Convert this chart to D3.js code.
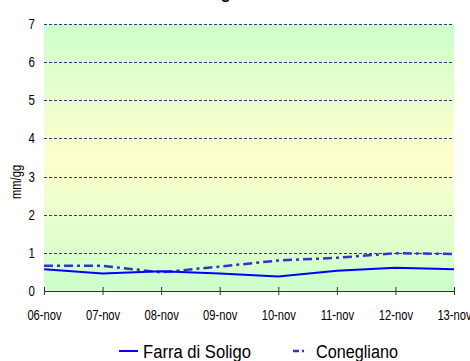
<!DOCTYPE html>
<html>
<head>
<meta charset="utf-8">
<script src="https://cdn.jsdelivr.net/npm/d3@7"></script>
<style>
  body { margin: 0; background: #fff; }
  svg { display: block; }
  text { font-family: "Liberation Sans Narrow", "Arial Narrow", "Liberation Sans", Arial, sans-serif; fill: #000; }
</style>
</head>
<body>
<div id="chart"></div>
<script>
'use strict';

const days = ['06-nov', '07-nov', '08-nov', '09-nov', '10-nov', '11-nov', '12-nov', '13-nov'];
const farra = [0.57, 0.46, 0.52, 0.46, 0.38, 0.53, 0.61, 0.57];
const conegliano = [0.66, 0.66, 0.49, 0.64, 0.80, 0.87, 0.99, 0.97];
const yTicks = [0, 1, 2, 3, 4, 5, 6, 7];

const W = 470, H = 361;
const margin = {top: 24, right: 16, bottom: 70, left: 44};
const plotW = W - margin.left - margin.right;
const plotH = H - margin.top - margin.bottom;

// squeeze text horizontally, the original font is a narrow one
function narrow(sel, k) {
    sel.each(function() {
        const len = this.getComputedTextLength();
        d3.select(this)
            .attr('textLength', len * k)
            .attr('lengthAdjust', 'spacingAndGlyphs');
    });
}

const svg = d3.select('#chart').append('svg')
    .attr('width', W)
    .attr('height', H);

const x = d3.scalePoint().domain(days).range([0, plotW]);
const y = d3.scaleLinear().domain([0, 7]).range([plotH, 0]);

// background gradient green -> yellow -> green
const grad = svg.append('defs').append('linearGradient')
    .attr('id', 'bg')
    .attr('x1', 0).attr('y1', 0).attr('x2', 0).attr('y2', 1);
grad.append('stop').attr('offset', '0%').attr('stop-color', '#ccffcc');
grad.append('stop').attr('offset', '50%').attr('stop-color', '#ffffcc');
grad.append('stop').attr('offset', '100%').attr('stop-color', '#ccffcc');

// cut-off title, only its descender shows
svg.append('text')
    .attr('x', 245)
    .attr('y', -1)
    .attr('text-anchor', 'middle')
    .style('font-size', '16px')
    .style('font-weight', 'bold')
    .text('ETo giornaliera');

const g = svg.append('g')
    .attr('transform', 'translate(' + margin.left + ',' + margin.top + ')');

g.append('rect')
    .attr('width', plotW)
    .attr('height', plotH)
    .attr('fill', 'url(#bg)');

// dashed gridlines
g.selectAll('.grid')
    .data(yTicks.filter(function(d) { return d > 0; }))
    .enter().append('line')
    .attr('class', 'grid')
    .attr('x1', 0)
    .attr('x2', plotW)
    .attr('y1', function(d) { return Math.round(y(d)) + 0.5; })
    .attr('y2', function(d) { return Math.round(y(d)) + 0.5; })
    .attr('stroke', '#34348a')
    .attr('stroke-width', 1)
    .attr('stroke-dasharray', '3,2');

// y tick labels
g.selectAll('.ylab')
    .data(yTicks)
    .enter().append('text')
    .attr('class', 'ylab')
    .attr('x', -9)
    .attr('y', function(d) { return y(d); })
    .attr('dy', '0.36em')
    .attr('text-anchor', 'end')
    .style('font-size', '14px')
    .text(function(d) { return d; })
    .call(narrow, 0.82);

svg.append('text')
    .attr('transform', 'translate(21,182) rotate(-90)')
    .attr('text-anchor', 'middle')
    .style('font-size', '14px')
    .text('mm/gg')
    .call(narrow, 0.8);

// x axis
const xAxis = g.append('g')
    .attr('transform', 'translate(0,' + plotH + ')')
    .call(d3.axisBottom(x).tickSize(4).tickSizeOuter(0));
xAxis.select('.domain').attr('stroke', '#333').attr('stroke-width', 1.2);
xAxis.selectAll('.tick line')
    .attr('stroke', '#333')
    .attr('y1', -4);
xAxis.selectAll('.tick text')
    .attr('y', 19)
    .style('font-size', '14px')
    .style('font-family', '"Liberation Sans Narrow", "Arial Narrow", "Liberation Sans", Arial, sans-serif')
    .call(narrow, 0.8);

const line = d3.line()
    .x(function(d, i) { return x(days[i]); })
    .y(function(d) { return y(d); });

g.append('path')
    .datum(conegliano)
    .attr('fill', 'none')
    .attr('stroke', '#3333cc')
    .attr('stroke-width', 2.5)
    .attr('stroke-dasharray', '9,4,3,4')
    .attr('d', line);

g.append('path')
    .datum(farra)
    .attr('fill', 'none')
    .attr('stroke', '#0000ff')
    .attr('stroke-width', 2)
    .attr('d', line);

// legend
const legend = svg.append('g').attr('transform', 'translate(0,352)');
legend.append('line')
    .attr('x1', 119).attr('x2', 138)
    .attr('y1', -1).attr('y2', -1)
    .attr('stroke', '#0000ff').attr('stroke-width', 2);
legend.append('text')
    .attr('x', 143).attr('y', 0).attr('dy', '0.36em')
    .style('font-size', '18px')
    .text('Farra di Soligo')
    .attr('textLength', 108)
    .attr('lengthAdjust', 'spacingAndGlyphs');
legend.append('line')
    .attr('x1', 293).attr('x2', 305)
    .attr('y1', -1).attr('y2', -1)
    .attr('stroke', '#3333cc').attr('stroke-width', 2.5)
    .attr('stroke-dasharray', '6,3,2,3');
legend.append('text')
    .attr('x', 316).attr('y', 0).attr('dy', '0.36em')
    .style('font-size', '18px')
    .text('Conegliano')
    .attr('textLength', 82)
    .attr('lengthAdjust', 'spacingAndGlyphs');
</script>
</body>
</html>
